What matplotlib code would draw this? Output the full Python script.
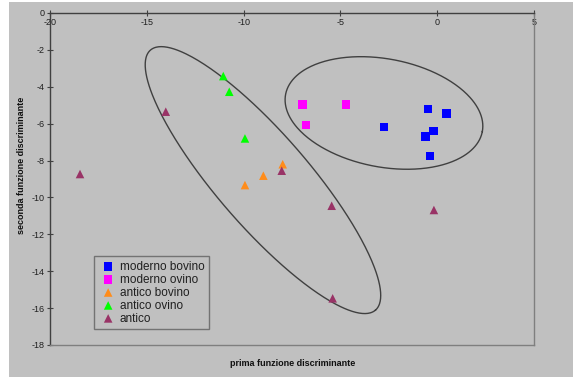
import numpy as np
import matplotlib
matplotlib.use("Agg")
import matplotlib.pyplot as plt
from matplotlib.patches import Rectangle

plt.rcParams['font.family'] = ['Liberation Sans', 'DejaVu Sans']

# ---- data ----
series_names = ["moderno bovino", "moderno ovino", "antico bovino", "antico ovino", "antico"]
mb_x = [-0.48, 0.49, -2.75, -0.20, -0.59, -0.37]
mb_y = [-5.21, -5.44, -6.17, -6.40, -6.71, -7.75]
mo_x = [-6.95, -4.71, -6.78]
mo_y = [-4.95, -4.95, -6.07]
ab_x = [-9.93, -8.98, -7.98]
ab_y = [-9.33, -8.82, -8.20]
ao_x = [-11.05, -10.74, -9.93]
ao_y = [-3.42, -4.27, -6.80]
an_x = [-14.02, -18.45, -8.03, -5.45, -5.40, -0.17]
an_y = [-5.35, -8.73, -8.55, -10.45, -15.47, -10.68]

x_ticks = [-20, -15, -10, -5, 0, 5]
y_ticks = [0, -2, -4, -6, -8, -10, -12, -14, -16, -18]

# ellipses: centre, semi-axis vectors (data units)
ell_left = dict(c=(-9.0, -9.06), a=(5.81, -7.05), b=(1.80, 1.63))
ell_right = dict(c=(-2.75, -5.42), a=(5.08, -1.01), b=(0.52, 2.88))

# ---- figure ----
W, H = 576, 377
fig = plt.figure(figsize=(W / 100, H / 100), dpi=100)
fig.patch.set_facecolor("white")
fig.add_artist(Rectangle((9 / W, 0), (573 - 9) / W, 1 - 2 / H, transform=fig.transFigure,
                         facecolor="#c0c0c0", edgecolor="none", zorder=0))

ax = fig.add_axes([50 / W, 1 - 345 / H, (534 - 50) / W, (345 - 13) / H])
ax.set_facecolor("#c0c0c0")
ax.set_xlim(-20, 5)
ax.set_ylim(-18, 0)

styles = [
    (mb_x, mb_y, "s", "#0000ff"),
    (mo_x, mo_y, "s", "#ff00ff"),
    (ab_x, ab_y, "^", "#ff8c1a"),
    (ao_x, ao_y, "^", "#00ff00"),
    (an_x, an_y, "^", "#993366"),
]
for (xs, ys, m, c), name in zip(styles, series_names):
    ax.scatter(xs, ys, marker=m, s=38, color=c, edgecolors="none", label=name, zorder=3)

t = np.linspace(0, 2 * np.pi, 400)
for e in (ell_left, ell_right):
    px = e["c"][0] + e["a"][0] * np.cos(t) + e["b"][0] * np.sin(t)
    py = e["c"][1] + e["a"][1] * np.cos(t) + e["b"][1] * np.sin(t)
    ax.plot(px, py, color="#404040", lw=1.0, zorder=2)

# spines
for s in ("right", "bottom"):
    ax.spines[s].set_color("#7f7f7f")
    ax.spines[s].set_linewidth(1.0)
for s in ("top", "left"):
    ax.spines[s].set_color("#404040")
    ax.spines[s].set_linewidth(1.0)

ax.set_xticks(x_ticks)
ax.set_xticklabels([str(v) for v in x_ticks])
ax.set_yticks(y_ticks)
ax.set_yticklabels([str(v) for v in y_ticks])
ax.tick_params(axis="x", top=True, bottom=False, labeltop=True, labelbottom=False,
               direction="inout", length=4, width=0.8, color="#404040", pad=-12,
               labelsize=6.5, labelcolor="#202020")
ax.tick_params(axis="y", left=True, right=False, direction="inout", length=4, width=0.8,
               color="#404040", pad=2, labelsize=6.5, labelcolor="#202020")

fig.text(22 / W, 1 - 165 / H, "seconda funzione discriminante", rotation=90,
         ha="center", va="center", fontsize=6.5, fontweight="bold", color="#101010")
fig.text(293 / W, 1 - 363 / H, "prima funzione discriminante",
         ha="center", va="center", fontsize=6.5, fontweight="bold", color="#101010")

leg = ax.legend(loc="upper left", bbox_to_anchor=((94 - 50) / 484, (345 - 256) / 332),
                borderaxespad=0, frameon=True, fancybox=False, fontsize=8.5,
                handletextpad=0.2, handlelength=1.6, labelspacing=0.08,
                borderpad=0.4, markerscale=1.0)
leg.get_frame().set_facecolor("#c0c0c0")
leg.get_frame().set_edgecolor("#606060")
leg.get_frame().set_linewidth(1.0)
for txt in leg.get_texts():
    txt.set_color("#202020")

fig.savefig("out.png", dpi=100, facecolor=fig.get_facecolor())
